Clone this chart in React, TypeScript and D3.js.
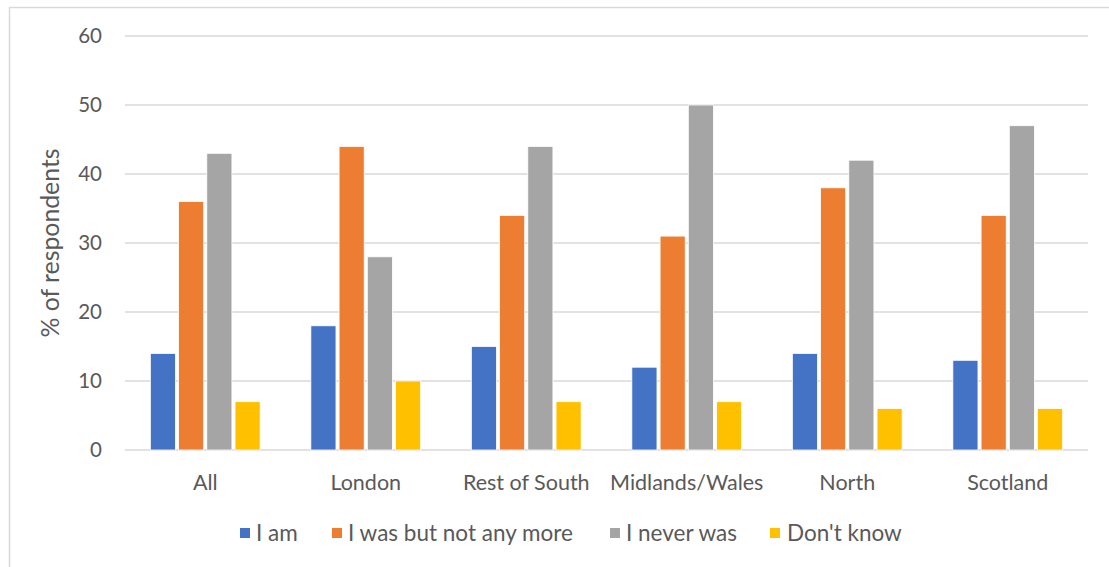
import React from "react";
import * as d3 from "d3";

const categories = ["All", "London", "Rest of South", "Midlands/Wales", "North", "Scotland"];
const seriesNames = ["I am", "I was but not any more", "I never was", "Don't know"];
const iAm = [14, 18, 15, 12, 14, 13];
const wasNotAnyMore = [36, 44, 34, 31, 38, 34];
const neverWas = [43, 28, 44, 50, 42, 47];
const dontKnow = [7, 10, 7, 7, 6, 6];
const yTicks = [0, 10, 20, 30, 40, 50, 60];
const colors = ["#4472C4", "#ED7D31", "#A5A5A5", "#FFC000"];

const W = 1109;
const H = 567;
const FONT = "Lato, 'Open Sans', sans-serif";
const TEXT = "#595959";

export default function App() {
  const series = [iAm, wasNotAnyMore, neverWas, dontKnow];
  const left = 125, right = 1088, top = 36, bottom = 450;
  const x0 = d3.scaleBand<string>().domain(categories).range([left, right]).paddingInner(0).paddingOuter(0);
  const x1 = d3.scaleBand<number>().domain([0, 1, 2, 3]).range([0, 116]).padding(0.11);
  const groupOffset = (x0.bandwidth() - 116) / 2;
  const y = d3.scaleLinear().domain([0, 60]).range([bottom, top]);

  const legendItems = [
    { x: 240, textX: 256 },
    { x: 332, textX: 348 },
    { x: 610, textX: 626 },
    { x: 770, textX: 787 },
  ];

  return (
    <svg width={W} height={H} style={{ position: "absolute", left: 0, top: 0, background: "#fff" }}>
      <rect x={9.5} y={7.5} width={1300} height={700} fill="#fff" stroke="#D9D9D9" strokeWidth={1.5} />
      {yTicks.map((t) => (
        <g key={t}>
          <line x1={left} x2={right} y1={y(t)} y2={y(t)} stroke="#D9D9D9" strokeWidth={1.3} />
          <text x={102} y={y(t)} dy="0.36em" textAnchor="end" fontFamily={FONT} fontSize={20.5} fill={TEXT}>
            {t}
          </text>
        </g>
      ))}
      {categories.map((c, ci) => (
        <g key={c} transform={`translate(${(x0(c) as number) + groupOffset},0)`}>
          {series.map((s, si) => (
            <rect
              key={si}
              x={x1(si) as number}
              y={y(s[ci])}
              width={x1.bandwidth()}
              height={bottom - y(s[ci])}
              fill={colors[si]}
              stroke="#fff"
              strokeWidth={0.8}
            />
          ))}
        </g>
      ))}
      {categories.map((c) => (
        <text
          key={c}
          x={(x0(c) as number) + x0.bandwidth() / 2}
          y={490}
          textAnchor="middle"
          fontFamily={FONT}
          fontSize={21.5}
          fill={TEXT}
        >
          {c}
        </text>
      ))}
      <text
        transform={`translate(59,243) rotate(-90)`}
        textAnchor="middle"
        fontFamily={FONT}
        fontSize={24.8}
        fill={TEXT}
      >
        % of respondents
      </text>
      {seriesNames.map((n, i) => (
        <g key={n}>
          <rect x={legendItems[i].x} y={528} width={10} height={10} fill={colors[i]} />
          <text x={legendItems[i].textX} y={541} fontFamily={FONT} fontSize={22.5} fill={TEXT}>
            {n}
          </text>
        </g>
      ))}
    </svg>
  );
}
